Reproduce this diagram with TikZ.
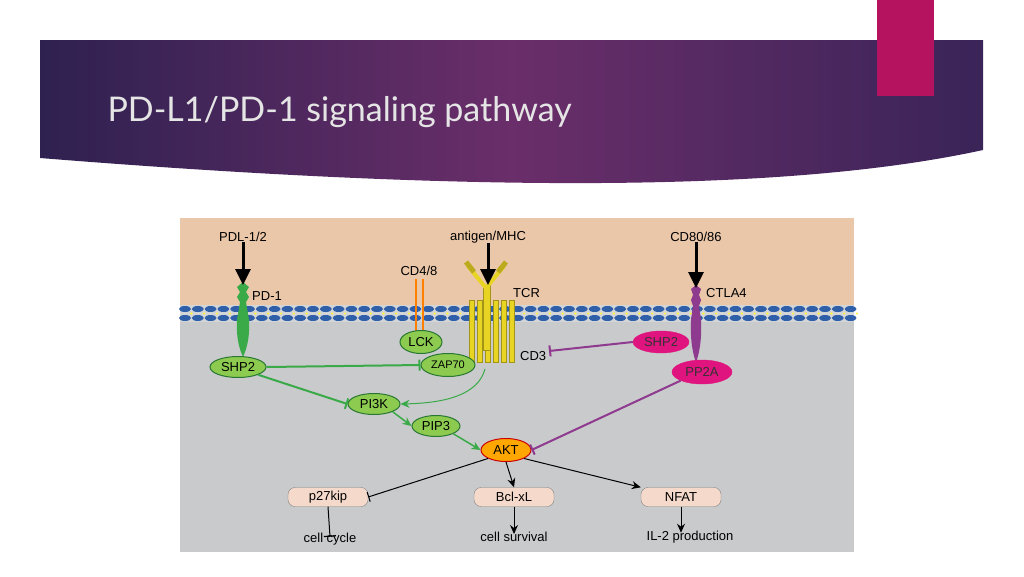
\documentclass[tikz,border=0pt]{standalone}
\usepackage{fontspec}
\setmainfont{Liberation Sans}
\newfontfamily\titlefont{Lato}
\usetikzlibrary{arrows.meta,shapes.geometric}
\definecolor{tan}{HTML}{EBC7A9}
\definecolor{cyt}{HTML}{C9CACC}
\definecolor{gr}{HTML}{3AAA48}
\definecolor{grf}{HTML}{8CCB50}
\definecolor{mg}{HTML}{E0147F}
\definecolor{pu}{HTML}{8E3A8E}
\definecolor{yl}{HTML}{E8D423}
\definecolor{bx}{HTML}{F5DACB}
\definecolor{pinkbar}{HTML}{B5135F}
\definecolor{bana}{HTML}{2E2150}
\definecolor{banb}{HTML}{6A2E6A}
\definecolor{banc}{HTML}{3A2458}
\definecolor{memb}{HTML}{2F5FA8}
\begin{document}
\begin{tikzpicture}[x=1pt,y=-1pt,
 gnode/.style={ellipse,draw=gr!70!black,fill=grf,line width=1pt,inner sep=0pt,font=\fontsize{13}{13}\selectfont},
 mnode/.style={ellipse,draw=mg,fill=mg,text=black!80,inner sep=0pt,font=\fontsize{13}{13}\selectfont},
 box/.style={rounded corners=7pt,draw=black!50,fill=bx,minimum width=80pt,minimum height=19pt,inner sep=0pt,font=\fontsize{13}{13}\selectfont},
 lbl/.style={font=\fontsize{13}{13}\selectfont,inner sep=0pt},
 inh/.style={-{Bar[width=11pt,line width=2pt]},line width=2pt},
 act/.style={-{Stealth[length=9pt,width=8pt]},line width=1.5pt},
 big/.style={-{Triangle[length=16pt,width=15pt]},line width=3pt}]
\useasboundingbox (0,0) rectangle (1024,576);
\fill[white] (0,0) rectangle (1024,576);
% banner
\shade[left color=bana, right color=banc, middle color=banb]
 (40,40) -- (983,40) -- (983,150) .. controls (800,190) and (500,195) .. (40,158) -- cycle;
\fill[pinkbar] (877,0) rectangle (934,96);
\node[anchor=west,text=white!90!black,font=\titlefont\fontsize{34}{34}\selectfont] (title) at (104,112) {PD-L1/PD-1 signaling pathway};
% diagram background
\fill[cyt] (180,218) rectangle (854,552);
\fill[tan] (180,218) rectangle (854,306);
% membrane
\fill[cyt!80!white] (180,305) rectangle (854,322);
\foreach \i in {0,...,52}{
 \fill[memb] (185+\i*12.8,309) ellipse (6pt and 3pt);
 \fill[memb] (185+\i*12.8,318) ellipse (6pt and 3pt);
 \fill[yellow!80!white] (191.4+\i*12.8,313.5) circle (1.2pt);
}
% PD-1
\fill[gr] (243,282) -- (249,287) -- (246,292) -- (249,297) -- (246,302) -- (249,320) .. controls (250,340) and (246,350) .. (243,357) .. controls (240,350) and (236,340) .. (237,320) -- (240,302) -- (237,297) -- (240,292) -- (237,287) -- cycle;
\node[lbl,anchor=west] (pd1) at (252,296) {PD-1};
\node[lbl] (pdl) at (243,237) {PDL-1/2};
\coordinate (pdlt) at (243,285);
\draw[big] (pdl.south) -- (pdlt);
\node[gnode,minimum width=56pt,minimum height=21pt] (shp2) at (238,367) {SHP2};
% CD4/8
\node[lbl] (cd48) at (419,271) {CD4/8};
\draw[orange,line width=2pt] (416,279) -- (416,332) (423,279) -- (423,332);
% TCR / CD3
\foreach \x in {472,480,488,496,504,512}{\fill[yl,draw=yl!70!black,line width=0.4pt] (\x-2.5,300) rectangle (\x+2.5,362);}
\fill[yl,draw=yl!70!black] (483,285) rectangle (490,350);
\draw[yl,line width=4pt] (486,288) -- (468,266) (486,288) -- (504,266);
\draw[yl!80!black,line width=5pt] (466,262) -- (474,272) (506,262) -- (498,272);
\node[lbl] (ag) at (488,237) {antigen/MHC};
\coordinate (agt) at (488,285);
\draw[big] (ag.south) -- (agt);
\node[lbl,anchor=west] (tcr) at (513,293) {TCR};
\node[lbl,anchor=west] (cd3) at (520,356) {CD3};
\node[gnode,minimum width=42pt,minimum height=23pt] (lck) at (421,342) {LCK};
\node[gnode,minimum width=54pt,minimum height=23pt,font=\fontsize{11}{11}\selectfont] (zap) at (448,365) {ZAP70};
\node[gnode,minimum width=52pt,minimum height=21pt] (pi3k) at (374,404) {PI3K};
\node[gnode,minimum width=48pt,minimum height=21pt] (pip3) at (436,426) {PIP3};
\node[ellipse,draw=red!80!black,fill=orange!70!yellow,line width=1pt,inner sep=0pt,minimum width=50pt,minimum height=23pt,font=\fontsize{13}{13}\selectfont] (akt) at (506,450) {AKT};
\coordinate (tcrb) at (485,369);
\draw[act,gr,line width=1pt] (tcrb) .. controls (478,395) and (445,403) .. (pi3k.east);
\draw[inh,gr] (shp2.east) -- (zap.west);
\draw[inh,gr] (shp2.south east) -- (pi3k.west);
\draw[act,gr] (pi3k.south east) -- (pip3.west);
\draw[act,gr] (pip3.south east) -- (akt.west);
% CTLA4
\fill[pu] (696,285) -- (701,289) -- (699,295) -- (701,300) -- (699,306) -- (701,320) .. controls (702,340) and (699,355) .. (696,362) .. controls (693,355) and (690,340) .. (691,320) -- (693,306) -- (691,300) -- (693,295) -- (691,289) -- cycle;
\node[lbl] (cd80) at (696,237) {CD80/86};
\coordinate (cd80t) at (696,288);
\draw[big] (cd80.south) -- (cd80t);
\node[lbl,anchor=west] (ctla) at (706,293) {CTLA4};
\node[mnode,minimum width=56pt,minimum height=22pt] (mshp) at (661,342) {SHP2};
\node[mnode,minimum width=60pt,minimum height=24pt] (pp2a) at (702,372) {PP2A};
\coordinate (cd3t) at (549,351);
\draw[inh,pu] (mshp.west) -- (cd3t);
\draw[inh,pu] (pp2a.south west) -- (akt.east);
% outputs
\node[box] (p27) at (328,497) {p27kip};
\node[box] (bcl) at (514,497) {Bcl-xL};
\node[box] (nfat) at (681,497) {NFAT};
\draw[inh,line width=1pt,-{Bar[width=10pt,line width=1pt]}] (akt.south west) -- (p27.east);
\draw[act,line width=1pt] (akt.south) -- (bcl.north);
\draw[act,line width=1pt] (akt.south east) -- (nfat.north west);
\node[lbl] (cc) at (330,539) {cell cycle};
\node[lbl] (cs) at (514,537) {cell survival};
\node[lbl] (il) at (690,537) {IL-2 production};
\draw[line width=1pt,-{Bar[width=12pt,line width=1.2pt]}] (p27.south) -- ([yshift=-4pt]cc.north);
\draw[act,line width=1pt] (bcl.south) -- ([yshift=-2pt]cs.north);
\draw[act,line width=1pt] (nfat.south) -- ([yshift=-2pt]nfat.south |- il.north);
\end{tikzpicture}
\end{document}
